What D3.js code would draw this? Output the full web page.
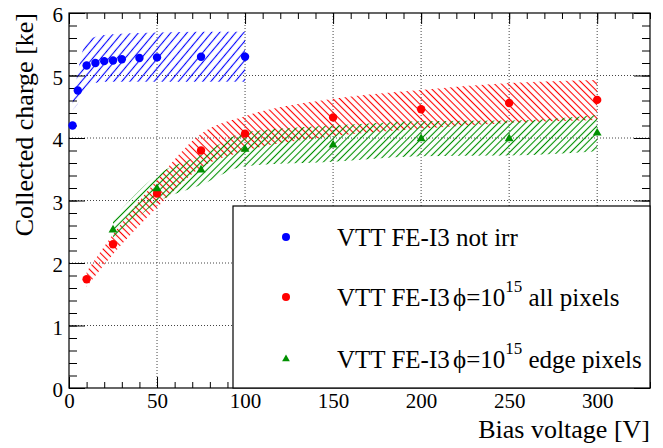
<!DOCTYPE html>
<html>
<head>
<meta charset="utf-8">
<script src="https://cdn.jsdelivr.net/npm/d3@7"></script>
<style>
  html, body { margin: 0; padding: 0; background: #fff; }
  svg text { font-family: "Liberation Serif", "Times New Roman", Times, "DejaVu Serif", serif; }
</style>
</head>
<body>
<svg id="chart" width="663" height="448"></svg>
<script>
// Collected charge vs bias voltage, VTT FE-I3 sensors

// Not irradiated
const voltBlue   = [2, 5, 10, 15, 20, 25, 30, 40, 50, 75, 100];
const chargeBlue = [4.20, 4.76, 5.16, 5.20, 5.23, 5.24, 5.26, 5.28, 5.29, 5.30, 5.30];
const bandBlueLow  = [4.45, 4.55, 4.82, 4.88, 4.90, 4.90, 4.90, 4.90, 4.90, 4.90, 4.90];
const bandBlueHigh = [4.55, 5.05, 5.55, 5.62, 5.65, 5.66, 5.67, 5.68, 5.69, 5.70, 5.70];

// phi = 1e15, all pixels
const voltRed   = [10, 25, 50, 75, 100, 150, 200, 250, 300];
const chargeRed = [1.74, 2.30, 3.11, 3.80, 4.07, 4.33, 4.46, 4.56, 4.61];
const bandRedLow  = [1.62, 2.14, 2.89, 3.53, 3.79, 4.03, 4.15, 4.24, 4.29];
const bandRedHigh = [1.86, 2.46, 3.33, 4.07, 4.35, 4.63, 4.77, 4.88, 4.93];

// phi = 1e15, edge pixels
const voltGreen   = [25, 50, 75, 100, 150, 200, 250, 300];
const chargeGreen = [2.53, 3.19, 3.49, 3.82, 3.89, 3.99, 3.99, 4.08];
const bandGreenLow  = [2.35, 2.97, 3.25, 3.55, 3.62, 3.71, 3.72, 3.79];
const bandGreenHigh = [2.71, 3.41, 3.73, 4.09, 4.20, 4.27, 4.28, 4.37];

const xMajorTicks = [0, 50, 100, 150, 200, 250, 300];
const yMajorTicks = [0, 1, 2, 3, 4, 5, 6];
const xTitle = "Bias voltage [V]";
const yTitle = "Collected charge [ke]";

const FONT = "'Liberation Serif', 'Times New Roman', Times, 'DejaVu Serif', serif";
const COL_BLUE = "#0000ff", COL_RED = "#ff0000", COL_GREEN = "#009000";

const svg = d3.select("#chart").attr("font-family", FONT);
const L = 69, R = 650, T = 13, B = 388;
const x = d3.scaleLinear().domain([0, 330]).range([L, R]);
const y = d3.scaleLinear().domain([0, 6]).range([B, T]);

// hatch patterns
const defs = svg.append("defs");
function hatch(id, color, angle, gap) {
  const p = defs.append("pattern")
    .attr("id", id)
    .attr("patternUnits", "userSpaceOnUse")
    .attr("width", gap).attr("height", 20)
    .attr("patternTransform", `rotate(${angle})`);
  p.append("line")
    .attr("x1", gap / 2).attr("y1", 0)
    .attr("x2", gap / 2).attr("y2", 20)
    .attr("stroke", color).attr("stroke-width", 1.1);
}
hatch("hBlue", COL_BLUE, 40, 6.2);
hatch("hRed", COL_RED, -45, 4.8);
hatch("hGreen", COL_GREEN, 45, 4.8);

// grid
const grid = svg.append("g")
  .attr("stroke", "#444").attr("stroke-width", 1)
  .attr("stroke-dasharray", "1,2");
grid.selectAll("line.gx").data(xMajorTicks.filter(v => v > 0))
  .join("line").attr("class", "gx")
  .attr("x1", d => x(d)).attr("x2", d => x(d))
  .attr("y1", T).attr("y2", B);
grid.selectAll("line.gy").data(yMajorTicks.filter(v => v > 0 && v < 6))
  .join("line").attr("class", "gy")
  .attr("y1", d => y(d)).attr("y2", d => y(d))
  .attr("x1", L).attr("x2", R);

// bands
function band(volts, lo, hi, fillId) {
  const rows = volts.map((v, i) => ({ v, lo: lo[i], hi: hi[i] }));
  const area = d3.area()
    .x(d => x(d.v)).y0(d => y(d.lo)).y1(d => y(d.hi))
    .curve(d3.curveMonotoneX);
  svg.append("path").datum(rows)
    .attr("d", area)
    .attr("fill", `url(#${fillId})`)
    .attr("stroke", "none");
}
band(voltBlue, bandBlueLow, bandBlueHigh, "hBlue");
band(voltRed, bandRedLow, bandRedHigh, "hRed");
band(voltGreen, bandGreenLow, bandGreenHigh, "hGreen");

// axes (ticks point inwards on all four sides)
function styleAxis(g) {
  g.attr("font-family", FONT);
  g.select(".domain").remove();
  g.selectAll(".tick line").attr("stroke", "#000").attr("stroke-width", 1);
  g.selectAll("text").attr("fill", "#000");
}
const xMinor = d3.range(0, 331, 10);
const yMinor = d3.range(0, 6.001, 0.2).map(v => +v.toFixed(1));

svg.append("g").attr("transform", `translate(0,${B})`)
  .call(d3.axisBottom(x).tickValues(xMinor).tickSize(-6).tickFormat(""))
  .call(styleAxis);
svg.append("g").attr("transform", `translate(0,${B})`)
  .call(d3.axisBottom(x).tickValues(xMajorTicks).tickSize(-11).tickPadding(4).tickFormat(d3.format("d")))
  .call(styleAxis)
  .call(g => g.selectAll("text").attr("font-size", 21).attr("dy", "0.74em"));
svg.append("g").attr("transform", `translate(0,${T})`)
  .call(d3.axisTop(x).tickValues(xMinor).tickSize(-6).tickFormat(""))
  .call(styleAxis);
svg.append("g").attr("transform", `translate(0,${T})`)
  .call(d3.axisTop(x).tickValues(xMajorTicks).tickSize(-11).tickFormat(""))
  .call(styleAxis);

svg.append("g").attr("transform", `translate(${L},0)`)
  .call(d3.axisLeft(y).tickValues(yMinor).tickSize(-8).tickFormat(""))
  .call(styleAxis);
svg.append("g").attr("transform", `translate(${L},0)`)
  .call(d3.axisLeft(y).tickValues(yMajorTicks).tickSize(-16).tickPadding(6).tickFormat(d3.format("d")))
  .call(styleAxis)
  .call(g => g.selectAll("text").attr("font-size", 21).attr("dy", "0.42em"));
svg.append("g").attr("transform", `translate(${R},0)`)
  .call(d3.axisRight(y).tickValues(yMinor).tickSize(-8).tickFormat(""))
  .call(styleAxis);
svg.append("g").attr("transform", `translate(${R},0)`)
  .call(d3.axisRight(y).tickValues(yMajorTicks).tickSize(-16).tickFormat(""))
  .call(styleAxis);

// frame
svg.append("rect")
  .attr("x", L).attr("y", T).attr("width", R - L).attr("height", B - T)
  .attr("fill", "none").attr("stroke", "#000").attr("stroke-width", 1.2);

// titles
svg.append("text")
  .attr("x", R).attr("y", 438)
  .attr("text-anchor", "end").attr("font-size", 26)
  .text(xTitle);
svg.append("text")
  .attr("transform", `translate(33,${T}) rotate(-90)`)
  .attr("text-anchor", "end").attr("font-size", 26)
  .text(yTitle);

// markers
const tri = d3.symbol().type(d3.symbolTriangle);
svg.append("g").selectAll("circle")
  .data(voltBlue.map((v, i) => [v, chargeBlue[i]]))
  .join("circle")
  .attr("cx", d => x(d[0])).attr("cy", d => y(d[1])).attr("r", 4.2)
  .attr("fill", COL_BLUE);
svg.append("g").selectAll("circle")
  .data(voltRed.map((v, i) => [v, chargeRed[i]]))
  .join("circle")
  .attr("cx", d => x(d[0])).attr("cy", d => y(d[1])).attr("r", 4.2)
  .attr("fill", COL_RED);
svg.append("g").selectAll("path")
  .data(voltGreen.map((v, i) => [v, chargeGreen[i]]))
  .join("path")
  .attr("d", tri.size(34))
  .attr("transform", d => `translate(${x(d[0])},${y(d[1])})`)
  .attr("fill", COL_GREEN);

// legend
const lg = svg.append("g");
lg.append("rect")
  .attr("x", 233).attr("y", 206).attr("width", R - 233).attr("height", B - 206)
  .attr("fill", "#fff").attr("stroke", "#000").attr("stroke-width", 1.2);
const rows = [
  { y: 237, color: COL_BLUE, shape: "circle", label: ["VTT FE-I3 not irr"] },
  { y: 297, color: COL_RED, shape: "circle", label: ["VTT FE-I3 ", "ϕ=10", "15", " all pixels"] },
  { y: 359, color: COL_GREEN, shape: "triangle", label: ["VTT FE-I3 ", "ϕ=10", "15", " edge pixels"] }
];
rows.forEach(r => {
  if (r.shape === "circle") {
    lg.append("circle").attr("cx", 286).attr("cy", r.y).attr("r", 4).attr("fill", r.color);
  } else {
    lg.append("path").attr("d", d3.symbol().type(d3.symbolTriangle).size(26)())
      .attr("transform", `translate(286,${r.y})`).attr("fill", r.color);
  }
  const t = lg.append("text").attr("x", 337).attr("y", r.y + 8.5).attr("font-size", 25);
  if (r.label.length === 1) {
    t.text(r.label[0]);
  } else {
    t.append("tspan").text(r.label[0]);
    t.append("tspan").attr("dx", -3).text(r.label[1]);
    t.append("tspan").attr("dy", -14).attr("font-size", 17).text(r.label[2]);
    t.append("tspan").attr("dy", 14).text(r.label[3]);
  }
});
</script>
</body>
</html>
